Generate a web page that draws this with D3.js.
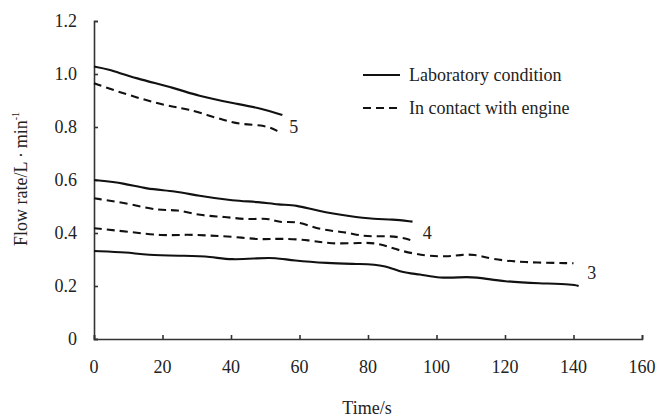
<!DOCTYPE html>
<html>
<head>
<meta charset="utf-8">
<script src="https://cdn.jsdelivr.net/npm/d3@7"></script>
<style>
  body { margin: 0; background: #fff; }
  text { font-family: "Liberation Serif", "Times New Roman", serif; fill: #222; }
</style>
</head>
<body>
<div id="chart"></div>
<script>
// Data: [time (s), flow rate (L/min)]
var lab5 = [[0,1.028],[4,1.019],[12,0.984],[24,0.946],[30,0.918],[41,0.889],[49,0.87],[55,0.845]];
var eng5 = [[0,0.965],[10,0.92],[22,0.877],[27,0.87],[36,0.833],[43,0.808],[50,0.808],[54,0.782]];
var lab4 = [[0,0.6],[9,0.588],[15,0.566],[24,0.558],[30,0.541],[41,0.521],[48,0.518],[54,0.506],[59,0.506],[65,0.484],[75,0.462],[82,0.452],[87,0.452],[93,0.443]];
var eng4 = [[0,0.531],[10,0.512],[19,0.483],[24,0.49],[31,0.465],[38,0.462],[45,0.449],[51,0.458],[54,0.437],[59,0.447],[66,0.411],[73,0.405],[79,0.386],[84,0.389],[89,0.386],[93,0.371]];
var eng3 = [[0,0.418],[10,0.405],[20,0.389],[27,0.395],[34,0.39],[41,0.386],[49,0.374],[54,0.38],[63,0.374],[69,0.358],[78,0.363],[83,0.363],[89,0.333],[97,0.313],[103,0.311],[107,0.317],[111,0.321],[116,0.301],[125,0.289],[140,0.286]];
var lab3 = [[0,0.332],[10,0.327],[15,0.317],[27,0.314],[34,0.311],[40,0.298],[48,0.305],[53,0.307],[58,0.296],[68,0.286],[78,0.283],[85,0.279],[90,0.25],[95,0.245],[101,0.229],[107,0.233],[111,0.235],[120,0.216],[130,0.21],[140,0.206],[141.5,0.2]];

var xTicks = [0, 20, 40, 60, 80, 100, 120, 140, 160];
var yTicks = [0, 0.2, 0.4, 0.6, 0.8, 1.0, 1.2];
var curveLabels = [{t: "5", x: 57, y: 0.8}, {t: "4", x: 96, y: 0.4}, {t: "3", x: 144, y: 0.25}];
var legendItems = ["Laboratory condition", "In contact with engine"];

var width = 659, height = 419;
var svg = d3.select("#chart").append("svg")
    .attr("width", width)
    .attr("height", height);

var x = d3.scaleLinear().domain([0, 160]).range([94, 642]);
var y = d3.scaleLinear().domain([0, 1.2]).range([339, 21]);

// Axes - ticks pointing inward
svg.append("g")
    .attr("transform", "translate(0," + y(0) + ")")
    .call(d3.axisTop(x).tickValues(xTicks).tickSize(4).tickFormat(""))
    .call(function(g) { g.selectAll("path, line").attr("stroke", "#333").attr("stroke-width", 1.6); });

svg.append("g")
    .attr("transform", "translate(" + x(0) + ",0)")
    .call(d3.axisRight(y).tickValues(yTicks).tickSize(4).tickFormat(""))
    .call(function(g) { g.selectAll("path, line").attr("stroke", "#333").attr("stroke-width", 1.6); });

// Tick labels
svg.selectAll(".xl").data(xTicks).enter().append("text")
    .attr("x", function(d) { return x(d); })
    .attr("y", 373)
    .attr("text-anchor", "middle")
    .attr("font-size", 18)
    .text(function(d) { return d; });

svg.selectAll(".yl").data(yTicks).enter().append("text")
    .attr("x", 77)
    .attr("y", function(d) { return y(d) + 6; })
    .attr("text-anchor", "end")
    .attr("font-size", 18)
    .text(function(d) { return d === 0 ? "0" : d.toFixed(1); });

// Axis titles
svg.append("text")
    .attr("x", 367).attr("y", 414)
    .attr("text-anchor", "middle")
    .attr("font-size", 18)
    .text("Time/s");

var yt = svg.append("text")
    .attr("transform", "translate(27,179) rotate(-90)")
    .attr("text-anchor", "middle")
    .attr("font-size", 18);
yt.append("tspan").text("Flow rate/L\u2009\u00b7\u2009min");
yt.append("tspan").attr("font-size", 10).attr("dy", -8).text("-1");

// Curves
var line = d3.line()
    .x(function(d) { return x(d[0]); })
    .y(function(d) { return y(d[1]); })
    .curve(d3.curveBasis);

var series = [
    {d: lab5, dash: null}, {d: eng5, dash: "8,5"},
    {d: lab4, dash: null}, {d: eng4, dash: "8,5"},
    {d: eng3, dash: "8,5"}, {d: lab3, dash: null}
];
svg.selectAll(".curve").data(series).enter().append("path")
    .attr("class", "curve")
    .attr("d", function(s) { return line(s.d); })
    .attr("fill", "none")
    .attr("stroke", "#111")
    .attr("stroke-width", 2.1)
    .attr("stroke-dasharray", function(s) { return s.dash; });

svg.selectAll(".cl").data(curveLabels).enter().append("text")
    .attr("x", function(d) { return x(d.x); })
    .attr("y", function(d) { return y(d.y) + 6; })
    .attr("font-size", 18)
    .text(function(d) { return d.t; });

// Legend
legendItems.forEach(function(t, i) {
    var ly = 75 + i * 33;
    svg.append("line")
        .attr("x1", 363).attr("x2", 400)
        .attr("y1", ly).attr("y2", ly)
        .attr("stroke", "#111").attr("stroke-width", 2.1)
        .attr("stroke-dasharray", i === 0 ? null : "8,5");
    svg.append("text")
        .attr("x", 409).attr("y", ly + 6)
        .attr("font-size", 18)
        .text(t);
});
</script>
</body>
</html>
